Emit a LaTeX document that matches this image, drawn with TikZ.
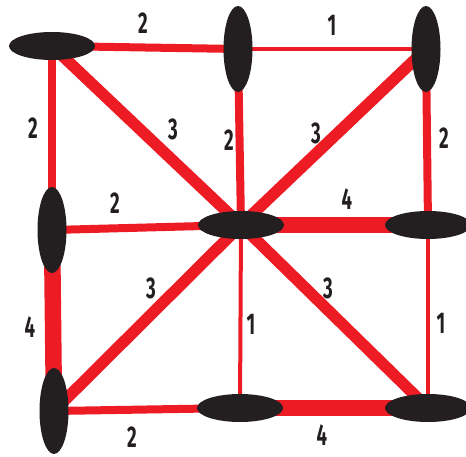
\documentclass[tikz,border=0pt]{standalone}
\usepackage{fontspec}
\setmainfont{Fira Sans}[FakeStretch=0.62]
\usetikzlibrary{shapes.geometric,backgrounds}
\definecolor{gr-red}{RGB}{237,28,36}
\definecolor{gr-black}{RGB}{35,31,32}

\begin{document}
\begin{tikzpicture}[x=1pt, y=-1pt,
    hnode/.style={ellipse, fill=gr-black, inner sep=0pt, minimum width=86pt, minimum height=28pt},
    vnode/.style={ellipse, fill=gr-black, inner sep=0pt, minimum width=29pt, minimum height=86pt},
    w1/.style={draw=gr-red, line width=4pt},
    w2/.style={draw=gr-red, line width=8pt},
    w3/.style={draw=gr-red, line width=11.5pt},
    w4/.style={draw=gr-red, line width=16.5pt},
    wlabel/.style={text=gr-black, inner sep=0pt, font=\fontsize{30}{30}\selectfont\bfseries}]
    \useasboundingbox (0,0) rectangle (466,457);

    \node[hnode] (tl) at (52,46) {};
    \node[vnode] (tm) at (238,49) {};
    \node[vnode] (tr) at (426,49) {};
    \node[vnode] (ml) at (52,230) {};
    \node[hnode] (mm) at (241,225) {};
    \node[hnode] (mr) at (428,225) {};
    \node[vnode] (bl) at (54,411) {};
    \node[hnode] (bm) at (240,408) {};
    \node[hnode] (br) at (428,408) {};

    \begin{scope}[on background layer]
        \draw[w2] (tl.center) -- (tm.center);
        \draw[w1] (tm.center) -- (tr.center);
        \draw[w2] (tl.center) -- (ml.center);
        \draw[w3] (tl.center) -- (mm.center);
        \draw[w2] (tm.center) -- (mm.center);
        \draw[w3] (tr.center) -- (mm.center);
        \draw[w2] (tr.center) -- (mr.center);
        \draw[w2] (ml.center) -- (mm.center);
        \draw[w4] (mm.center) -- (mr.center);
        \draw[w4] (ml.center) -- (bl.center);
        \draw[w3] (bl.center) -- (mm.center);
        \draw[w1] (mm.center) -- (bm.center);
        \draw[w3] (mm.center) -- (br.center);
        \draw[w1] (mr.center) -- (br.center);
        \draw[w2] (bl.center) -- (bm.center);
        \draw[w4] (bm.center) -- (br.center);
    \end{scope}

    \node[wlabel] (l-tl-tm) at (143,23) {2};
    \node[wlabel] (l-tm-tr) at (332,25) {1};
    \node[wlabel] (l-tl-ml) at (33,128) {2};
    \node[wlabel] (l-tl-mm) at (173,129) {3};
    \node[wlabel] (l-tm-mm) at (229,140) {2};
    \node[wlabel] (l-tr-mm) at (316,133) {3};
    \node[wlabel] (l-tr-mr) at (444,138) {2};
    \node[wlabel] (l-ml-mm) at (115,203) {2};
    \node[wlabel] (l-mm-mr) at (347,199) {4};
    \node[wlabel] (l-ml-bl) at (30,327) {4};
    \node[wlabel] (l-bl-mm) at (151,288) {3};
    \node[wlabel] (l-mm-bm) at (251,324) {1};
    \node[wlabel] (l-mm-br) at (328,288) {3};
    \node[wlabel] (l-mr-br) at (441,323) {1};
    \node[wlabel] (l-bl-bm) at (132,437) {2};
    \node[wlabel] (l-bm-br) at (322,435) {4};
\end{tikzpicture}
\end{document}
